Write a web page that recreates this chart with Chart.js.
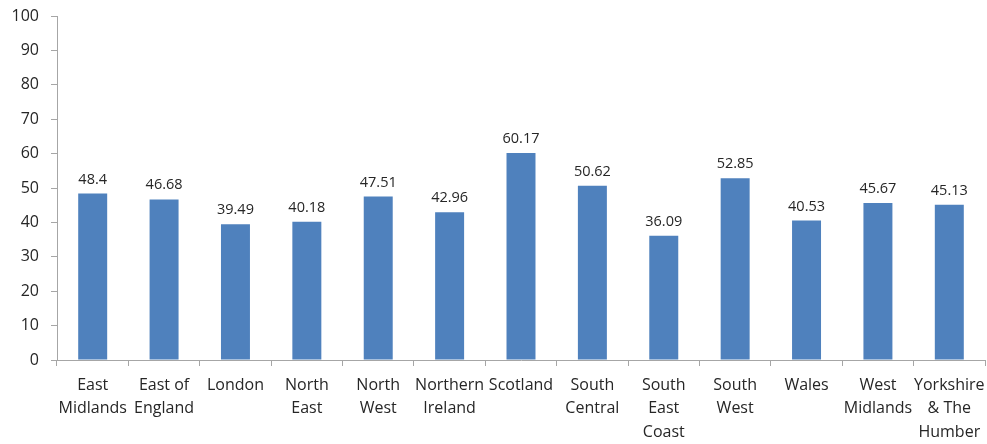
<!DOCTYPE html>
<html>
<head>
<meta charset="utf-8">
<script src="https://cdn.jsdelivr.net/npm/chart.js@4/dist/chart.umd.min.js"></script>
<style>
  html, body { margin: 0; padding: 0; background: #fff; }
  #wrap { width: 987px; height: 444px; position: relative; }
</style>
</head>
<body>
<div id="wrap"><canvas id="chart"></canvas></div>
<script>
var regions = [
    ['East', 'Midlands'], ['East of', 'England'], 'London', ['North', 'East'],
    ['North', 'West'], ['Northern', 'Ireland'], 'Scotland', ['South', 'Central'],
    ['South', 'East', 'Coast'], ['South', 'West'], 'Wales', ['West', 'Midlands'],
    ['Yorkshire', '& The', 'Humber']
];
var values = [48.4, 46.68, 39.49, 40.18, 47.51, 42.96, 60.17, 50.62, 36.09, 52.85, 40.53, 45.67, 45.13];
var yTicks = [0, 10, 20, 30, 40, 50, 60, 70, 80, 90, 100];

var textColor = '#262626';
var axisColor = '#a6a6a6';
var fontFamily = '"Open Sans", sans-serif';

// draws the value above each bar
var valueLabels = {
    id: 'valueLabels',
    afterDatasetsDraw: function (chart) {
        var ctx = chart.ctx;
        var meta = chart.getDatasetMeta(0);
        ctx.save();
        ctx.font = '14.5px ' + fontFamily;
        ctx.fillStyle = textColor;
        ctx.textAlign = 'center';
        ctx.textBaseline = 'alphabetic';
        meta.data.forEach(function (bar, i) {
            ctx.fillText(String(values[i]), bar.x, bar.y - 10);
        });
        ctx.restore();
    }
};

var ctx = document.getElementById('chart').getContext('2d');
var chart = new Chart(ctx, {
    type: 'bar',
    data: {
        labels: regions,
        datasets: [{
            data: values,
            backgroundColor: '#4f81bd',
            borderWidth: 0,
            barPercentage: 0.406,
            categoryPercentage: 1
        }]
    },
    options: {
        responsive: true,
        maintainAspectRatio: false,
        animation: false,
        layout: { padding: { top: 16, right: 2, left: 0, bottom: 0 } },
        plugins: {
            legend: { display: false },
            tooltip: { enabled: false }
        },
        scales: {
            x: {
                offset: true,
                grid: {
                    display: true,
                    offset: true,
                    drawOnChartArea: false,
                    drawTicks: true,
                    tickLength: 6,
                    color: axisColor
                },
                border: { color: axisColor, width: 1 },
                ticks: {
                    color: textColor,
                    font: { family: fontFamily, size: 16, lineHeight: 1.45 },
                    maxRotation: 0,
                    autoSkip: false,
                    padding: 8
                },
                afterFit: function (scale) {
                    scale.height = 84;
                    scale.paddingLeft = 0;
                    scale.paddingRight = 0;
                }
            },
            y: {
                min: 0,
                max: 100,
                afterBuildTicks: function (scale) {
                    scale.ticks = yTicks.map(function (v) { return { value: v }; });
                },
                grid: {
                    display: true,
                    drawOnChartArea: false,
                    drawTicks: true,
                    tickLength: 6,
                    color: axisColor
                },
                border: { color: axisColor, width: 1 },
                ticks: {
                    color: textColor,
                    font: { family: fontFamily, size: 16 },
                    padding: 12
                },
                afterFit: function (scale) {
                    scale.width = 57;
                    scale.paddingTop = 0;
                    scale.paddingBottom = 0;
                }
            }
        }
    },
    plugins: [valueLabels]
});
</script>
</body>
</html>
